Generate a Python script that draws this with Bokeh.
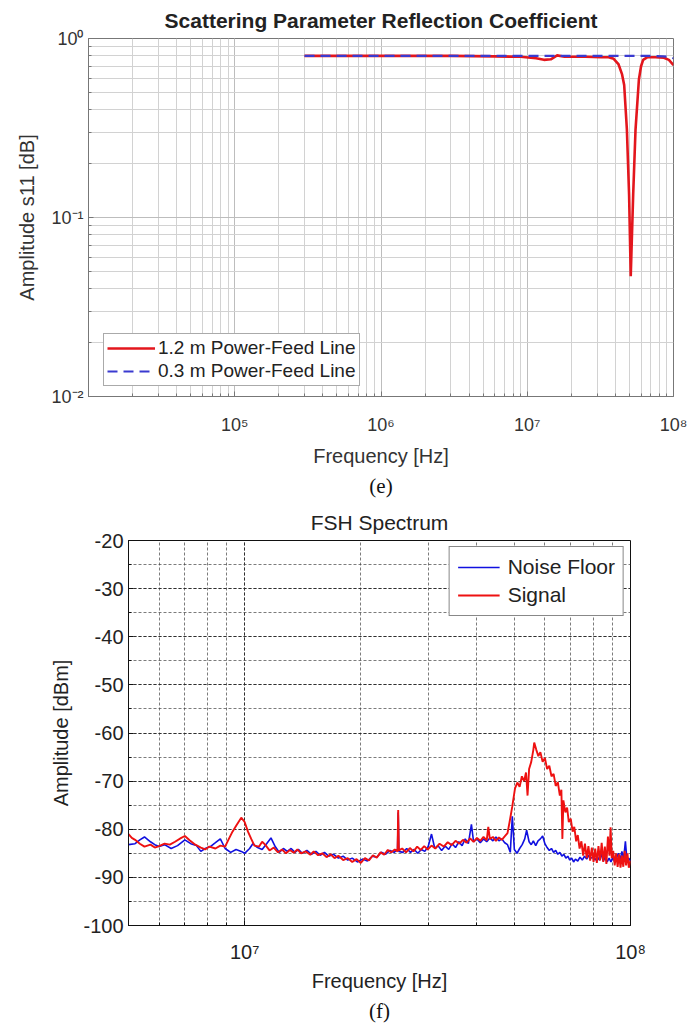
from bokeh.plotting import figure
from bokeh.models import (FixedTicker, CustomJSTickFormatter, Legend, LegendItem,
                          Range1d, Title)
from bokeh.embed import file_html
from bokeh.resources import INLINE

# ---------------- chart (e): S11 reflection coefficient ----------------
s11_freq_12m = [3.0e5, 1.0e6, 3.0e6, 6.0e6, 9.0e6, 1.15e7, 1.3e7, 1.45e7, 1.6e7, 1.8e7,
                2.5e7, 3.2e7, 3.6e7, 3.9e7, 4.2e7, 4.45e7, 4.6e7, 4.8e7, 4.97e7, 5.1e7,
                5.3e7, 5.5e7, 5.8e7, 6.0e7, 6.2e7, 6.6e7, 7.5e7, 8.6e7, 9.3e7, 1.0e8]
s11_amp_12m = [0.80, 0.80, 0.80, 0.795, 0.79, 0.775, 0.76, 0.765, 0.805, 0.79,
               0.79, 0.785, 0.785, 0.77, 0.72, 0.63, 0.55, 0.31, 0.134, 0.047,
               0.134, 0.31, 0.59, 0.70, 0.76, 0.785, 0.785, 0.78, 0.76, 0.71]
s11_freq_03m = [3.0e5, 1.0e6, 1.0e7, 3.0e7, 7.0e7, 8.5e7, 9.3e7, 1.0e8]
s11_amp_03m = [0.80, 0.80, 0.80, 0.80, 0.80, 0.795, 0.79, 0.775]

# ---------------- chart (f): FSH spectrum ----------------
noise_freq_mhz = [5.0, 5.2, 5.35, 5.5, 5.7, 5.85, 6.0, 6.2, 6.45, 6.7, 7.0, 7.25, 7.5, 7.7,
                  7.9, 8.15, 8.4, 8.65, 8.9, 9.2, 9.5, 9.8, 10.0, 10.3, 10.5, 10.8, 11.1,
                  11.4, 11.7, 12.0, 12.3, 12.6, 12.9, 13.2, 13.5, 13.8, 14.1, 14.5, 14.9,
                  15.3, 15.7, 16.1, 16.5, 17.0, 17.5, 18.0, 18.5, 19.0, 19.6, 20.2, 20.8,
                  21.4, 22.0, 22.6, 23.2, 23.8, 24.4, 24.9, 25.0, 25.1, 25.7, 26.3, 26.9,
                  27.5, 28.1, 28.7, 29.3, 29.9, 30.5, 31.1, 31.7, 32.4, 33.1, 33.8, 34.5,
                  35.2, 35.9, 36.6, 37.3, 38.0, 38.7, 39.2, 40.0, 40.8, 41.6, 42.4, 43.2,
                  44.0, 44.8, 45.6, 46.4, 47.2, 48.0, 48.8, 49.4, 50.0, 50.8, 51.6, 52.4,
                  53.2, 53.8, 54.6, 55.3, 56.0, 56.8, 57.6, 58.4, 59.2, 60.0, 60.8, 61.6,
                  62.4, 63.2, 64.0, 64.8, 65.6, 66.4, 67.2, 68.0, 68.8, 69.6, 70.4, 71.2,
                  72.0, 73.0, 74.0, 75.0, 76.0, 77.0, 78.0, 79.0, 80.0, 81.0, 82.0, 83.0,
                  84.0, 85.0, 86.0, 87.0, 88.0, 89.0, 90.0, 91.0, 92.0, 93.0, 94.0, 95.0,
                  96.0, 97.0, 98.0, 99.0, 100.0]
noise_dbm = [-83.2, -83.0, -82.2, -81.6, -82.6, -83.2, -83.6, -83.2, -84.0, -83.4, -82.2,
             -83.0, -83.4, -84.6, -84.0, -83.6, -82.8, -82.0, -84.0, -84.8, -84.2, -84.6,
             -85.0, -84.0, -83.0, -83.8, -84.2, -83.0, -81.8, -83.6, -84.8, -84.0, -84.6,
             -84.0, -84.8, -84.2, -85.0, -84.4, -85.2, -84.6, -85.4, -84.8, -85.6, -85.2,
             -86.0, -85.6, -86.4, -86.0, -86.8, -86.2, -86.6, -85.6, -85.8, -84.8, -85.2,
             -84.4, -84.8, -84.2, -76.5, -84.6, -84.8, -84.0, -84.8, -84.2, -85.0, -84.2,
             -84.6, -83.6, -81.0, -84.0, -83.4, -84.4, -83.5, -84.2, -83.0, -83.8, -82.6,
             -83.4, -82.0, -83.0, -79.0, -82.6, -82.0, -82.8, -82.0, -82.6, -81.8, -82.4,
             -81.6, -82.4, -82.0, -82.8, -83.2, -84.8, -77.3, -84.2, -85.0, -84.0, -83.2,
             -82.0, -80.2, -82.6, -83.2, -82.4, -83.4, -82.4, -82.0, -81.4, -83.0, -83.8,
             -84.4, -84.0, -84.8, -84.4, -85.2, -84.8, -85.6, -85.2, -86.0, -85.6, -86.4,
             -86.0, -86.8, -86.2, -86.6, -85.8, -86.4, -85.6, -86.2, -85.4, -86.0, -85.8,
             -86.4, -85.6, -86.4, -85.2, -86.6, -85.8, -86.8, -86.0, -86.8, -85.8, -86.8,
             -86.0, -85.0, -86.4, -84.6, -86.2, -82.5, -86.8, -86.0, -86.6]

signal_freq_mhz = [5.0, 5.1, 5.2, 5.35, 5.5, 5.7, 5.85, 6.0, 6.2, 6.4, 6.6, 6.85, 7.0, 7.2,
                   7.45, 7.7, 7.9, 8.1, 8.4, 8.65, 8.9, 9.1, 9.3, 9.55, 9.8, 10.0, 10.2,
                   10.4, 10.6, 10.9, 11.1, 11.3, 11.6, 11.9, 12.2, 12.5, 12.8, 13.1, 13.4,
                   13.7, 14.0, 14.4, 14.8, 15.1, 15.5, 15.9, 16.3, 16.7, 17.1, 17.5, 18.0,
                   18.5, 19.0, 19.5, 20.0, 20.5, 21.0, 21.5, 22.0, 22.5, 23.0, 23.5, 24.0,
                   24.5, 24.9, 25.0, 25.1, 25.6, 26.2, 26.8, 27.4, 28.0, 28.6, 29.2, 29.8,
                   30.5, 31.2, 32.0, 32.8, 33.6, 34.4, 35.2, 36.0, 36.8, 37.6, 38.4, 39.2,
                   40.0, 40.8, 41.6, 42.4, 42.8, 43.2, 44.0, 44.8, 45.6, 46.4, 47.2, 48.0,
                   48.6, 49.4, 50.2, 50.9, 51.6, 52.3, 53.0, 53.6, 54.1, 54.6, 55.3, 56.0,
                   56.3, 57.0, 57.7, 58.4, 59.2, 60.0, 60.8, 61.6, 62.4, 63.2, 64.0, 64.8,
                   65.6, 66.2, 66.6, 67.0, 67.8, 68.5, 69.2, 70.0, 70.8, 71.5, 72.3, 73.0,
                   73.8, 74.6, 75.4, 76.2, 77.0, 77.8, 78.6, 79.4, 80.2, 81.0, 81.8, 82.6,
                   83.4, 84.2, 85.0, 85.8, 86.6, 87.4, 88.2, 88.8, 89.4, 90.2, 91.0, 91.8,
                   92.6, 93.4, 94.2, 95.0, 95.8, 96.6, 97.4, 98.2, 99.0, 100.0]
signal_dbm = [-81.0, -81.8, -82.2, -83.0, -83.6, -83.2, -83.8, -83.5, -83.0, -83.2, -82.6,
              -81.8, -81.4, -82.3, -83.2, -83.8, -84.2, -83.6, -84.0, -83.4, -83.6, -82.0,
              -80.5, -79.0, -77.6, -78.5, -80.5, -82.0, -83.4, -83.6, -82.6, -83.2, -84.4,
              -83.8, -84.8, -84.2, -85.0, -84.3, -84.9, -84.2, -85.0, -84.6, -85.3, -84.6,
              -85.4, -85.0, -85.8, -85.2, -86.0, -85.5, -86.4, -86.0, -86.8, -86.2, -87.0,
              -86.0, -86.5, -85.4, -85.9, -84.8, -85.3, -84.3, -84.8, -84.2, -84.6, -76.0,
              -84.4, -84.0, -84.8, -83.9, -84.6, -83.6, -84.3, -83.5, -84.2, -83.4, -84.0,
              -83.0, -83.6, -82.7, -83.3, -82.4, -83.0, -82.2, -82.8, -81.9, -82.6, -81.8,
              -82.4, -81.6, -82.3, -79.5, -82.0, -81.6, -82.4, -81.7, -82.2, -81.5, -80.8,
              -78.5, -75.2, -71.5, -70.3, -71.2, -69.0, -70.0, -68.2, -73.0, -67.5, -66.0,
              -63.5, -62.0, -63.5, -64.8, -64.0, -66.0, -65.2, -67.5, -66.8, -69.0, -68.5,
              -71.0, -70.2, -73.0, -71.8, -82.0, -74.0, -76.5, -75.5, -78.5, -77.8, -80.5,
              -79.5, -82.5, -81.2, -84.0, -82.5, -85.5, -83.0, -86.0, -83.5, -86.5, -83.8,
              -86.8, -84.0, -87.0, -83.5, -86.5, -82.8, -86.8, -83.6, -87.2, -81.5, -85.5,
              -79.6, -86.0, -84.5, -87.5, -85.0, -87.8, -85.2, -88.0, -85.5, -87.8, -84.5,
              -87.5, -85.0, -88.0, -86.5]

SANS = "Liberation Sans"
SERIF = "Liberation Serif"

sup_formatter_code = """
const sup = {"0":"\u2070","1":"\u00b9","2":"\u00b2","3":"\u00b3","4":"\u2074","5":"\u2075",
             "6":"\u2076","7":"\u2077","8":"\u2078","9":"\u2079","-":"\u207b"};
const e = Math.round(Math.log10(tick));
return "10" + String(e).split("").map(c => sup[c]).join("");
"""

# ======================= figure (e) =======================
p1 = figure(x_axis_type="log", y_axis_type="log",
            x_range=Range1d(1e4, 1e8), y_range=Range1d(1e-2, 1.0),
            width=691, height=500,
            min_border_left=88, min_border_right=18, min_border_top=38, min_border_bottom=98,
            output_backend="svg", toolbar_location=None)
p1.title.text = "Scattering Parameter Reflection Coefficient"
p1.title.align = "center"
p1.title.text_font = SANS
p1.title.text_font_size = "21px"
p1.title.text_font_style = "bold"
p1.title.text_color = "#222222"
p1.title.standoff = 13

xt1 = FixedTicker(ticks=[1e5, 1e6, 1e7, 1e8],
                  minor_ticks=[m * 10 ** k for k in range(4, 8) for m in range(1, 10)])
yt1 = FixedTicker(ticks=[1e-2, 1e-1, 1e0],
                  minor_ticks=[m * 10.0 ** k for k in range(-2, 0) for m in range(1, 10)])
p1.xaxis.ticker = xt1
p1.xgrid.ticker = xt1
p1.yaxis.ticker = yt1
p1.ygrid.ticker = yt1
fmt = CustomJSTickFormatter(code=sup_formatter_code)
p1.xaxis.formatter = fmt
p1.yaxis.formatter = fmt

for ax in (p1.xaxis, p1.yaxis):
    ax.major_label_text_font = SANS
    ax.major_label_text_font_size = "18px"
    ax.major_label_text_color = "#333333"
    ax.axis_label_text_font = SANS
    ax.axis_label_text_font_size = "20px"
    ax.axis_label_text_font_style = "normal"
    ax.axis_label_text_color = "#333333"
    ax.axis_line_color = "#777777"
    ax.major_tick_line_color = "#777777"
    ax.minor_tick_line_color = "#777777"
    ax.major_tick_in = 5
    ax.major_tick_out = 0
    ax.minor_tick_in = 3
    ax.minor_tick_out = 0
p1.xaxis.axis_label = "Frequency [Hz]"
p1.yaxis.axis_label = "Amplitude s11 [dB]"
p1.xaxis.major_label_standoff = 18
p1.xaxis.axis_label_standoff = 7
p1.yaxis.major_label_standoff = 5
p1.yaxis.axis_label_standoff = 10

for g in (p1.xgrid, p1.ygrid):
    g.grid_line_color = "#bdbdbd"
    g.grid_line_alpha = 1.0
    g.minor_grid_line_color = "#d2d2d2"
p1.outline_line_color = "#777777"

r12 = p1.line(s11_freq_12m, s11_amp_12m, line_color="#e3161d", line_width=2.6)
r03 = p1.line(s11_freq_03m, s11_amp_03m, line_color="#3a3ad0", line_width=2.2,
              line_dash="10 6")
leg1 = Legend(items=[LegendItem(label="1.2 m Power-Feed Line", renderers=[r12]),
                     LegendItem(label="0.3 m Power-Feed Line", renderers=[r03])],
              location=(15, 10), label_text_font=SANS, label_text_font_size="19px",
              label_text_color="#222222", glyph_width=48, glyph_height=20,
              label_height=20, label_standoff=3, spacing=1, padding=3, margin=0,
              border_line_color="#555555", border_line_width=1,
              background_fill_color="white", background_fill_alpha=1.0)
p1.add_layout(leg1)
p1.add_layout(Title(text="(e)", align="center", text_font=SERIF, text_font_size="21px",
                    text_font_style="normal", text_color="#111111", standoff=5), "below")

# ======================= figure (f) =======================
noise_freq_hz = [f * 1e6 for f in noise_freq_mhz]
signal_freq_hz = [f * 1e6 for f in signal_freq_mhz]

p2 = figure(x_axis_type="log",
            x_range=Range1d(5e6, 1e8), y_range=Range1d(-100, -20),
            width=691, height=524,
            min_border_left=128, min_border_right=61, min_border_top=40, min_border_bottom=97,
            output_backend="svg", toolbar_location=None)
p2.title.text = "FSH Spectrum"
p2.title.align = "center"
p2.title.text_font = SANS
p2.title.text_font_size = "21px"
p2.title.text_font_style = "normal"
p2.title.text_color = "#222222"
p2.title.standoff = 13

xt2 = FixedTicker(ticks=[1e7, 1e8],
                  minor_ticks=[m * 10 ** k for k in range(6, 8) for m in range(1, 10)])
yt2 = FixedTicker(ticks=list(range(-100, -19, 10)), minor_ticks=list(range(-100, -19, 5)))
p2.xaxis.ticker = xt2
p2.xgrid.ticker = xt2
p2.yaxis.ticker = yt2
p2.ygrid.ticker = yt2
p2.xaxis.formatter = CustomJSTickFormatter(code=sup_formatter_code)
p2.yaxis.formatter = CustomJSTickFormatter(code="return tick.toFixed(0);")

for ax in (p2.xaxis, p2.yaxis):
    ax.major_label_text_font = SANS
    ax.major_label_text_font_size = "20px"
    ax.major_label_text_color = "#222222"
    ax.axis_label_text_font = SANS
    ax.axis_label_text_font_size = "20px"
    ax.axis_label_text_font_style = "normal"
    ax.axis_label_text_color = "#222222"
    ax.axis_line_color = "#111111"
    ax.major_tick_line_color = "#111111"
    ax.minor_tick_line_color = "#111111"
    ax.major_tick_in = 5
    ax.major_tick_out = 0
    ax.minor_tick_in = 3
    ax.minor_tick_out = 0
p2.xaxis.axis_label = "Frequency [Hz]"
p2.yaxis.axis_label = "Amplitude [dBm]"
p2.xaxis.major_label_standoff = 15
p2.xaxis.axis_label_standoff = 4
p2.yaxis.major_label_standoff = 5
p2.yaxis.axis_label_standoff = 8

for g in (p2.xgrid, p2.ygrid):
    g.grid_line_color = "#222222"
    g.grid_line_dash = "3 2"
    g.grid_line_alpha = 0.85
    g.minor_grid_line_color = "#444444"
    g.minor_grid_line_dash = "3 2"
    g.minor_grid_line_alpha = 0.7
p2.outline_line_color = "#111111"

rn = p2.line(noise_freq_hz, noise_dbm, line_color="#1010e0", line_width=1.6)
rs = p2.line(signal_freq_hz, signal_dbm, line_color="#ee1111", line_width=1.9)
leg2 = Legend(items=[LegendItem(label="Noise Floor", renderers=[rn]),
                     LegendItem(label="Signal", renderers=[rs])],
              location="top_right", label_text_font=SANS, label_text_font_size="21px",
              label_text_color="#222222", glyph_width=42, glyph_height=22,
              label_height=22, label_standoff=8, spacing=4, padding=8, margin=6,
              border_line_color="#111111", border_line_width=1,
              background_fill_color="white", background_fill_alpha=1.0)
p2.add_layout(leg2)
p2.add_layout(Title(text="(f)", align="center", text_font=SERIF, text_font_size="21px",
                    text_font_style="normal", text_color="#111111", standoff=4), "below")

open("out.html", "w").write(file_html((p1, p2), INLINE))
